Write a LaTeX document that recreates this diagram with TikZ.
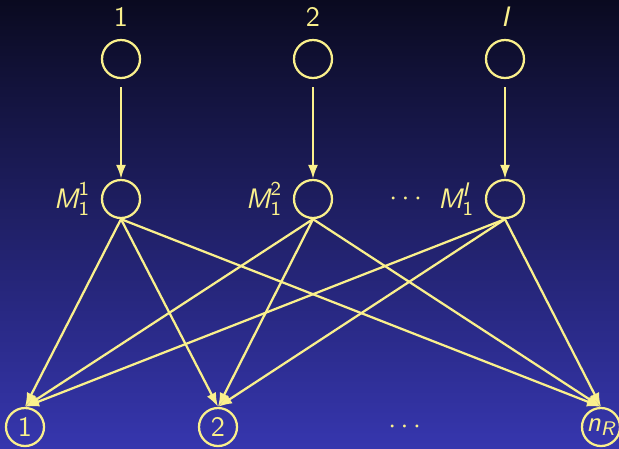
\documentclass[tikz,border=0pt]{standalone}
\usepackage{amsmath}
\usetikzlibrary{
    arrows.meta,
    positioning
}
\definecolor{slidetop}{RGB}{10,10,32}
\definecolor{slidebot}{RGB}{54,54,174}
\definecolor{pale}{RGB}{250,240,140}
\newcommand{\sfit}[1]{\text{\sffamily\itshape #1}}
\newcommand{\sfup}[1]{\text{\sffamily #1}}

\begin{document}
\begin{tikzpicture}[x=0.0125cm, y=-0.0125cm,
    every node/.style={font=\sffamily, text=pale},
    nd/.style={draw=pale, circle, thick, minimum size=0.475cm, inner sep=0pt},
    arr/.style={-{Latex[length=5pt,width=3.6pt]}, thick, pale},
    lbl/.style={inner sep=1pt}
  ]
    \shade[top color=slidetop, bottom color=slidebot] (0,0) rectangle (619,448);
    \useasboundingbox (0,0) rectangle (619,448);
    % input units
    \node[lbl](l1) at (121,17) {1};
    \node[lbl](l2) at (313,17) {2};
    \node[lbl](lI) at (505,17) {\itshape I};
    \node[nd](t1) at (121,59) {};
    \node[nd](t2) at (313,59) {};
    \node[nd](tI) at (505,59) {};
    % first layer
    \node[nd](m1) at (121,199) {};
    \node[nd](m2) at (313,199) {};
    \node[nd](mI) at (505,199) {};
    \node[lbl, left=2.5pt of m1] (lm1) {$\sfit{M}_{\sfup{1}}^{\sfup{1}}$};
    \node[lbl, left=2.5pt of m2] (lm2) {$\sfit{M}_{\sfup{1}}^{\sfup{2}}$};
    \node[lbl, left=2.5pt of mI] (lmI) {$\sfit{M}_{\sfup{1}}^{\sfit{I}}$};
    \node[lbl](dm) at (408,199) {$\cdots$};
    % output units
    \node[nd](r1) at (25,427)  {1};
    \node[nd](r2) at (218,427) {2};
    \node[nd](rn) at (601,427) {$\sfit{n}_{\sfit{R}}$};
    \node[lbl](dr) at (407,427) {$\cdots$};
    \draw[arr, shorten <=2.8pt](t1)--(m1);
    \draw[arr, shorten <=2.8pt](t2)--(m2);
    \draw[arr, shorten <=2.8pt](tI)--(mI);
    \foreach \a in {m1,m2,mI}
      \foreach \b in {r1,r2,rn}
        \draw[arr](\a.south)--(\b.north);
  \end{tikzpicture}
\end{document}
